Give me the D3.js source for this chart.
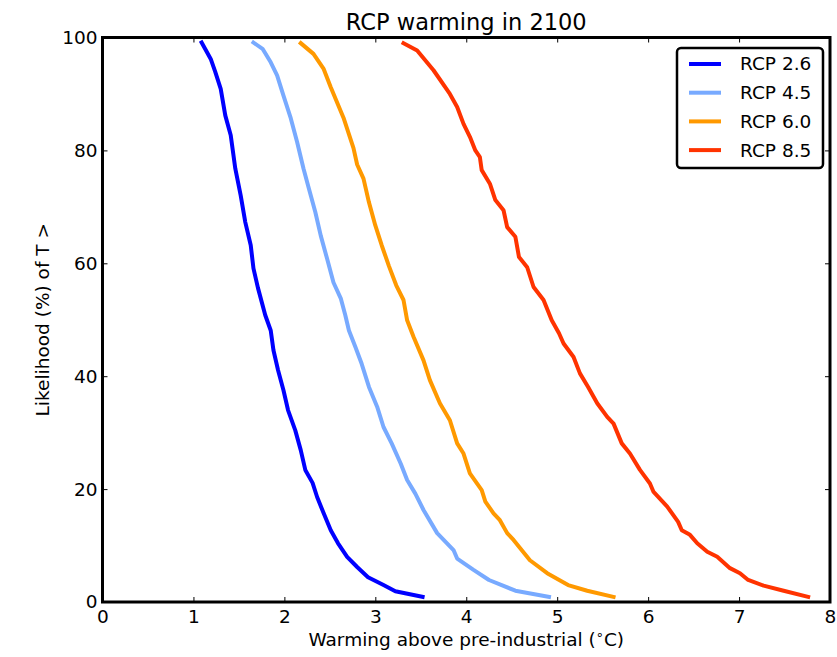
<!DOCTYPE html>
<meta charset="utf-8">
<style>
body { margin: 0; background: #fff; }
svg text { font-family: "DejaVu Sans", sans-serif; fill: #000; }
.axis line { stroke: #000; stroke-width: 1; }
.axis path { display: none; }
.axis text { font-size: 18.5px; }
</style>
<svg width="837" height="657"></svg>
<script src="https://d3js.org/d3.v7.min.js"></script>
<script>

// likelihood (%) that warming exceeds T
var rcp26T = [1.09, 1.19, 1.24, 1.30, 1.35, 1.41, 1.46, 1.52, 1.57, 1.63, 1.66, 1.71, 1.79, 1.85, 1.88, 1.93, 1.99, 2.04, 2.12, 2.18, 2.23, 2.31, 2.36, 2.43, 2.51, 2.59, 2.69, 2.80, 2.92, 3.09, 3.22, 3.52];
var rcp26L = [99.1, 96.2, 93.9, 90.9, 86.2, 82.7, 76.8, 72.0, 67.3, 63.2, 59.1, 55.6, 50.8, 48.1, 44.6, 41.1, 37.5, 34.0, 30.4, 26.9, 23.4, 21.1, 18.6, 15.8, 12.7, 10.4, 8.0, 6.2, 4.4, 3.0, 1.9, 0.9];

var rcp45T = [1.66, 1.76, 1.85, 1.92, 1.99, 2.07, 2.14, 2.21, 2.27, 2.34, 2.40, 2.47, 2.54, 2.62, 2.67, 2.71, 2.78, 2.85, 2.93, 3.02, 3.09, 3.18, 3.28, 3.35, 3.44, 3.53, 3.68, 3.86, 3.90, 4.08, 4.25, 4.54, 4.91];
var rcp45L = [99.1, 98.0, 95.6, 93.3, 89.7, 85.7, 81.5, 76.8, 73.2, 69.1, 64.9, 60.8, 56.6, 53.8, 50.8, 48.1, 45.2, 42.2, 38.1, 34.6, 31.0, 28.1, 24.5, 21.6, 19.2, 16.3, 12.2, 9.2, 7.7, 5.7, 3.9, 2.0, 0.9];

var rcp60T = [2.18, 2.32, 2.43, 2.51, 2.65, 2.76, 2.80, 2.87, 2.93, 3.00, 3.07, 3.15, 3.23, 3.31, 3.35, 3.42, 3.53, 3.60, 3.71, 3.82, 3.90, 3.97, 4.04, 4.17, 4.21, 4.30, 4.37, 4.45, 4.52, 4.70, 4.89, 5.12, 5.33, 5.62];
var rcp60L = [99.0, 97.1, 94.5, 91.2, 85.8, 80.4, 77.5, 75.0, 70.8, 66.7, 63.2, 59.5, 56.1, 53.5, 49.9, 47.0, 42.8, 39.3, 35.2, 32.2, 28.1, 26.3, 22.8, 19.8, 17.8, 15.7, 14.5, 12.2, 11.0, 7.4, 5.1, 3.0, 2.0, 0.9];

var rcp85T = [3.31, 3.46, 3.64, 3.82, 3.90, 3.97, 4.04, 4.10, 4.15, 4.17, 4.26, 4.32, 4.41, 4.45, 4.54, 4.58, 4.67, 4.74, 4.85, 4.94, 5.02, 5.07, 5.18, 5.25, 5.34, 5.44, 5.55, 5.62, 5.71, 5.80, 5.91, 6.02, 6.06, 6.21, 6.33, 6.37, 6.46, 6.54, 6.65, 6.76, 6.90, 7.01, 7.10, 7.27, 7.49, 7.76];
var rcp85L = [99.0, 97.7, 94.2, 90.0, 87.7, 84.7, 82.4, 80.0, 78.8, 76.5, 74.1, 71.2, 69.4, 66.4, 64.7, 61.1, 59.3, 55.8, 53.5, 49.9, 47.6, 45.8, 43.4, 40.5, 38.1, 35.2, 32.8, 31.6, 28.1, 26.3, 23.4, 21.0, 19.5, 16.9, 14.2, 12.7, 11.9, 10.4, 8.9, 8.0, 6.0, 5.1, 3.9, 2.9, 2.0, 0.9];

var seriesNames = ["RCP 2.6", "RCP 4.5", "RCP 6.0", "RCP 8.5"];
var seriesColors = ["#0000ff", "#78aaff", "#ff9900", "#ff3300"];
var xTicks = [0, 1, 2, 3, 4, 5, 6, 7, 8];
var yTicks = [0, 20, 40, 60, 80, 100];

var series = [
  d3.zip(rcp26T, rcp26L),
  d3.zip(rcp45T, rcp45L),
  d3.zip(rcp60T, rcp60L),
  d3.zip(rcp85T, rcp85L)
];

var svg = d3.select("svg");
var plotL = 102.5, plotR = 830, plotT = 37.5, plotB = 602;

var x = d3.scaleLinear().domain([0, 8]).range([plotL, plotR]);
var y = d3.scaleLinear().domain([0, 100]).range([plotB, plotT]);

// axes: ticks point inward on all four sides
svg.append("g").attr("class", "axis")
    .attr("transform", "translate(0," + plotB + ")")
    .call(d3.axisBottom(x).tickValues(xTicks).tickSizeInner(-5).tickSizeOuter(0).tickPadding(8));

svg.append("g").attr("class", "axis")
    .attr("transform", "translate(0," + plotT + ")")
    .call(d3.axisTop(x).tickValues(xTicks).tickSizeInner(-5).tickSizeOuter(0).tickFormat(""));

svg.append("g").attr("class", "axis")
    .attr("transform", "translate(" + plotL + ",0)")
    .call(d3.axisLeft(y).tickValues(yTicks).tickSizeInner(-5).tickSizeOuter(0).tickPadding(5));

svg.append("g").attr("class", "axis")
    .attr("transform", "translate(" + plotR + ",0)")
    .call(d3.axisRight(y).tickValues(yTicks).tickSizeInner(-5).tickSizeOuter(0).tickFormat(""));

var line = d3.line()
    .x(function(d) { return x(d[0]); })
    .y(function(d) { return y(d[1]); });

svg.append("g")
  .selectAll("path")
  .data(series)
  .enter().append("path")
    .attr("d", line)
    .attr("fill", "none")
    .attr("stroke", function(d, i) { return seriesColors[i]; })
    .attr("stroke-width", 4)
    .attr("stroke-linejoin", "round")
    .attr("stroke-linecap", "square");

// frame
svg.append("rect")
    .attr("x", plotL).attr("y", plotT)
    .attr("width", plotR - plotL).attr("height", plotB - plotT)
    .attr("fill", "none").attr("stroke", "#000").attr("stroke-width", 3);

// title and labels
svg.append("text")
    .attr("x", (plotL + plotR) / 2).attr("y", 30)
    .attr("text-anchor", "middle")
    .style("font-size", "22.5px")
    .text("RCP warming in 2100");

var xl = svg.append("text")
    .attr("x", (plotL + plotR) / 2).attr("y", 646)
    .attr("text-anchor", "middle")
    .style("font-size", "18.5px");
xl.append("tspan").text("Warming above pre-industrial (");
xl.append("tspan").attr("dy", -7).style("font-size", "13px").text("\u2218");
xl.append("tspan").attr("dy", 7).text("C)");

svg.append("text")
    .attr("transform", "translate(49," + ((plotT + plotB) / 2) + ") rotate(-90)")
    .attr("text-anchor", "middle")
    .style("font-size", "18.5px")
    .text("Likelihood (%) of T >");

// legend
var legend = svg.append("g").attr("transform", "translate(677,48)");
legend.append("rect")
    .attr("width", 146).attr("height", 120).attr("rx", 4)
    .attr("fill", "#fff").attr("stroke", "#000").attr("stroke-width", 2.5);

var item = legend.selectAll("g.item")
  .data(seriesNames)
  .enter().append("g")
    .attr("class", "item")
    .attr("transform", function(d, i) { return "translate(0," + (16 + i * 28.7) + ")"; });

item.append("line")
    .attr("x1", 12).attr("x2", 44)
    .attr("stroke", function(d, i) { return seriesColors[i]; })
    .attr("stroke-width", 4);

item.append("text")
    .attr("x", 63).attr("dy", "0.35em")
    .style("font-size", "18.5px")
    .text(function(d) { return d; });

</script>
